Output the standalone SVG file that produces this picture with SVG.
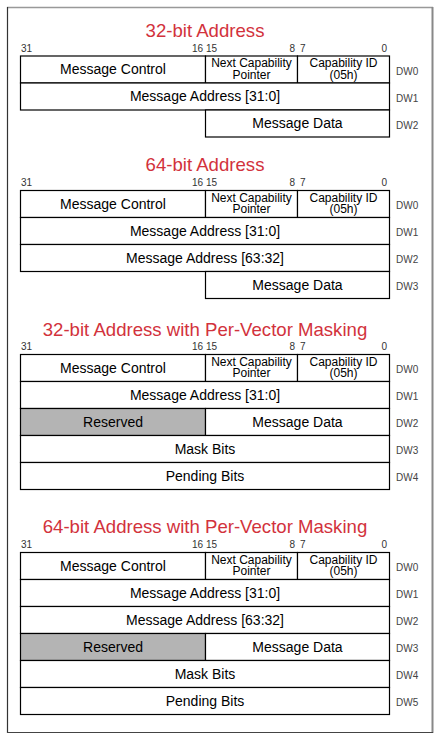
<svg xmlns="http://www.w3.org/2000/svg" width="440" height="739" viewBox="0 0 440 739">
<style>
text{font-family:"Liberation Sans",Arial,sans-serif}
.title{font-size:18.6px;fill:#d2323c;text-anchor:middle}
.bit{font-size:10px;fill:#333}
.e{text-anchor:end}
.dw{font-size:10px;fill:#444}
.t{font-size:14px;fill:#000;text-anchor:middle}
.s{font-size:12px;fill:#000;text-anchor:middle}
.cell{fill:#fff;stroke:#000;stroke-width:1.2}
.res{fill:#b4b4b4;stroke:#000;stroke-width:1.2}
</style>
<rect x="0" y="0" width="440" height="739" fill="#fff"/>
<g id="frame">
<line x1="7" y1="7.5" x2="433" y2="7.5" stroke="#999" stroke-width="1.4"/>
<line x1="432.5" y1="7" x2="432.5" y2="733" stroke="#888" stroke-width="2"/>
<line x1="7.5" y1="7" x2="7.5" y2="733" stroke="#333" stroke-width="1.2"/>
<line x1="7" y1="732.5" x2="433" y2="732.5" stroke="#444" stroke-width="1.2"/>
</g>
<defs>
<g id="hdr">
<text class="bit" x="21" y="-4.5">31</text>
<text class="bit e" x="203" y="-4.5">16</text>
<text class="bit" x="206" y="-4.5">15</text>
<text class="bit e" x="295" y="-4.5">8</text>
<text class="bit" x="300" y="-4.5">7</text>
<text class="bit e" x="387" y="-4.5">0</text>
<rect class="cell" x="20.5" y="0" width="185" height="27"/>
<rect class="cell" x="205.5" y="0" width="92" height="27"/>
<rect class="cell" x="297.5" y="0" width="92" height="27"/>
<text class="t" x="113" y="18">Message Control</text>
<text class="s" x="251.5" y="11.3">Next Capability</text>
<text class="s" x="251.5" y="22.6">Pointer</text>
<text class="s" x="343.5" y="11.3">Capability ID</text>
<text class="s" x="343.5" y="22.6">(05h)</text>
<text class="dw" x="396" y="18.5">DW0</text>
</g>
</defs>
<g id="sec1" transform="translate(0,56)">
<text class="title" x="205" y="-19.5">32-bit Address</text>
<use href="#hdr"/>
<rect class="cell" x="20.5" y="27" width="369" height="27"/>
<text class="t" x="205" y="45">Message Address [31:0]</text>
<text class="dw" x="396" y="45.5">DW1</text>
<rect class="cell" x="205.5" y="54" width="184" height="27"/>
<text class="t" x="297.5" y="72">Message Data</text>
<text class="dw" x="396" y="72.5">DW2</text>
</g>
<g id="sec2" transform="translate(0,190.5)">
<text class="title" x="205" y="-19.5">64-bit Address</text>
<use href="#hdr"/>
<rect class="cell" x="20.5" y="27" width="369" height="27"/>
<text class="t" x="205" y="45">Message Address [31:0]</text>
<text class="dw" x="396" y="45.5">DW1</text>
<rect class="cell" x="20.5" y="54" width="369" height="27"/>
<text class="t" x="205" y="72">Message Address [63:32]</text>
<text class="dw" x="396" y="72.5">DW2</text>
<rect class="cell" x="205.5" y="81" width="184" height="27"/>
<text class="t" x="297.5" y="99">Message Data</text>
<text class="dw" x="396" y="99.5">DW3</text>
</g>
<g id="sec3" transform="translate(0,354.5)">
<text class="title" x="205" y="-19">32-bit Address with Per-Vector Masking</text>
<use href="#hdr"/>
<rect class="cell" x="20.5" y="27" width="369" height="27"/>
<text class="t" x="205" y="45">Message Address [31:0]</text>
<text class="dw" x="396" y="45.5">DW1</text>
<rect class="res" x="20.5" y="54" width="185" height="27"/>
<text class="t" x="113" y="72">Reserved</text>
<rect class="cell" x="205.5" y="54" width="184" height="27"/>
<text class="t" x="297.5" y="72">Message Data</text>
<text class="dw" x="396" y="72.5">DW2</text>
<rect class="cell" x="20.5" y="81" width="369" height="27"/>
<text class="t" x="205" y="99">Mask Bits</text>
<text class="dw" x="396" y="99.5">DW3</text>
<rect class="cell" x="20.5" y="108" width="369" height="27"/>
<text class="t" x="205" y="126">Pending Bits</text>
<text class="dw" x="396" y="126.5">DW4</text>
</g>
<g id="sec4" transform="translate(0,552.5)">
<text class="title" x="205" y="-19.5">64-bit Address with Per-Vector Masking</text>
<use href="#hdr"/>
<rect class="cell" x="20.5" y="27" width="369" height="27"/>
<text class="t" x="205" y="45">Message Address [31:0]</text>
<text class="dw" x="396" y="45.5">DW1</text>
<rect class="cell" x="20.5" y="54" width="369" height="27"/>
<text class="t" x="205" y="72">Message Address [63:32]</text>
<text class="dw" x="396" y="72.5">DW2</text>
<rect class="res" x="20.5" y="81" width="185" height="27"/>
<text class="t" x="113" y="99">Reserved</text>
<rect class="cell" x="205.5" y="81" width="184" height="27"/>
<text class="t" x="297.5" y="99">Message Data</text>
<text class="dw" x="396" y="99.5">DW3</text>
<rect class="cell" x="20.5" y="108" width="369" height="27"/>
<text class="t" x="205" y="126">Mask Bits</text>
<text class="dw" x="396" y="126.5">DW4</text>
<rect class="cell" x="20.5" y="135" width="369" height="27"/>
<text class="t" x="205" y="153">Pending Bits</text>
<text class="dw" x="396" y="153.5">DW5</text>
</g>
</svg>
